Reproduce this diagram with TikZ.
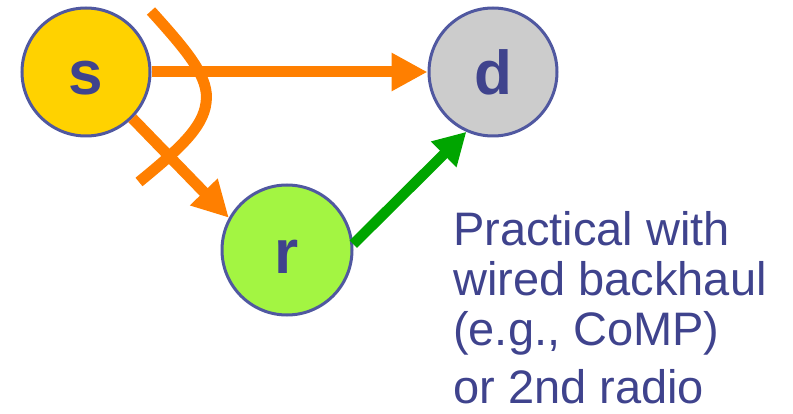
\documentclass[tikz,border=0pt]{standalone}
\usepackage{fontspec}
\setmainfont{Liberation Sans}
\usetikzlibrary{arrows.meta}
\definecolor{rim}{HTML}{5058A0}
\definecolor{ink}{HTML}{3F438D}
\definecolor{sfill}{HTML}{FFD200}
\definecolor{dfill}{HTML}{CCCCCC}
\definecolor{rfill}{HTML}{A3F542}
\definecolor{orng}{HTML}{FF7F00}
\definecolor{grn}{HTML}{00A500}
\tikzset{
  station/.style={circle, draw=rim, line width=3pt, text=ink,
    font=\fontsize{62}{62}\selectfont\bfseries, inner sep=0pt,
    text height=46pt, text depth=0pt},
  orngarrow/.style={draw=orng, line width=11pt, -{Triangle[length=36pt,width=36pt]}},
  grnarrow/.style={draw=grn, line width=10.5pt, -{Triangle[length=32pt,width=34pt]}},
  orngline/.style={draw=orng, line width=11pt},
  note/.style={text=ink, align=left, font=\fontsize{47}{50}\selectfont, inner sep=0pt}
}
\begin{document}
\begin{tikzpicture}[x=1pt,y=-1pt]
\useasboundingbox (0,0) rectangle (793,414);
\node[station, fill=sfill, minimum size=128pt] (s) at (86,72) {s};
\node[station, fill=dfill, minimum size=128pt] (d) at (493,72) {d};
\node[station, fill=rfill, minimum size=130pt] (r) at (287,250) {r};
\coordinate (ca) at (151,11);
\coordinate (cb) at (206,103);
\coordinate (cc) at (139,182);
\draw[orngline] (ca) .. controls (188,52) and (210,78) .. (cb)
  .. controls (203,128) and (178,150) .. (cc);
\draw[orngarrow] (s.east) -- (d.west);
\draw[orngarrow] (s.-45) -- (r.151);
\draw[grnarrow] (r.5) -- (d.246);
\node[note, anchor=base west] (t) at (453,403) {Practical with\\wired backhaul\\(e.g., CoMP)\\[8pt]or 2nd radio};
\end{tikzpicture}
\end{document}
